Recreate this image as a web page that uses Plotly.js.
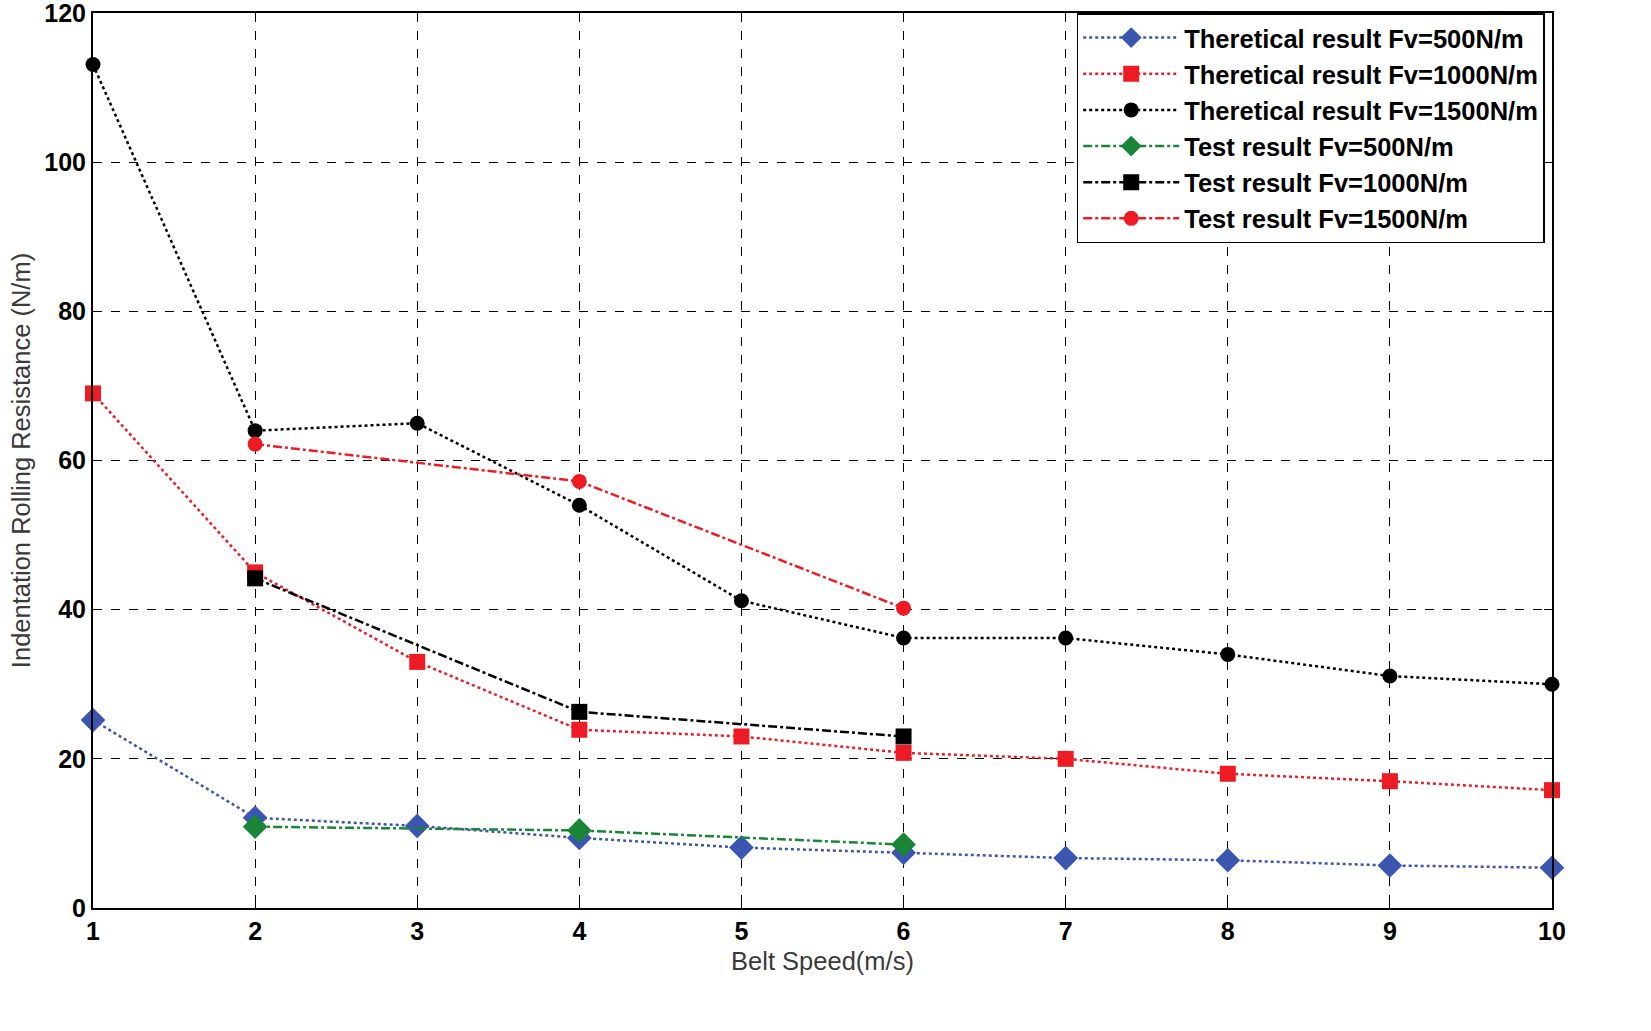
<!DOCTYPE html>
<html>
<head>
<meta charset="utf-8">
<script src="https://cdn.plot.ly/plotly-3.0.1.min.js"></script>
<style>
  body { margin: 0; background: #fff; }
  #chart { width: 1651px; height: 1031px; }
</style>
</head>
<body>
<div id="chart"></div>
<script>
var speed = [1, 2, 3, 4, 5, 6, 7, 8, 9, 10];
var testSpeed = [2, 4, 6];

var theory500 = [25.2, 12.1, 11.0, 9.4, 8.1, 7.4, 6.7, 6.4, 5.7, 5.4];
var theory1000 = [69, 45, 33, 23.9, 23, 20.8, 20, 18, 17, 15.8];
var theory1500 = [113.1, 64, 65, 54, 41.2, 36.2, 36.2, 34, 31.1, 30];

var test500 = [10.9, 10.4, 8.5];
var test1000 = [44.2, 26.3, 23];
var test1500 = [62.2, 57.2, 40.2];

var yTicks = [0, 20, 40, 60, 80, 100, 120];

var names = [
  'Theretical result Fv=500N/m',
  'Theretical result Fv=1000N/m',
  'Theretical result Fv=1500N/m',
  'Test result Fv=500N/m',
  'Test result Fv=1000N/m',
  'Test result Fv=1500N/m'
];

function series(x, y, name, color, dash, symbol, size) {
  return {
    x: x, y: y, name: name, legendgroup: name, type: 'scatter', mode: 'lines+markers',
    cliponaxis: false,
    line: { color: color, width: 2.5, dash: dash },
    marker: { color: color, symbol: symbol, size: size }
  };
}

var data = [
  series(speed, theory500, names[0], '#3b56b0', 'dot', 'diamond', 19),
  series(speed, theory1000, names[1], '#ed1c24', 'dot', 'square', 16),
  series(speed, theory1500, names[2], '#000000', 'dot', 'circle', 15),
  series(testSpeed, test500, names[3], '#1b8537', 'dashdot', 'diamond', 19),
  series(testSpeed, test1000, names[4], '#000000', 'dashdot', 'square', 16),
  series(testSpeed, test1500, names[5], '#ed1c24', 'dashdot', 'circle', 15)
];

var tickFont = { family: 'Liberation Sans, Arial, sans-serif', size: 25, color: '#000', weight: 'bold' };
var titleFont = { family: 'Liberation Sans, Arial, sans-serif', size: 25.5, color: '#3a3a3a' };

var layout = {
  width: 1651,
  height: 1031,
  margin: { l: 93, r: 99, t: 13, b: 123 },
  paper_bgcolor: '#fff',
  plot_bgcolor: '#fff',
  showlegend: true,
  legend: {
    x: 0.995, y: 1, xanchor: 'right', yanchor: 'top',
    bgcolor: '#fff', bordercolor: '#000', borderwidth: 1.5,
    itemwidth: 96, tracegroupgap: 0,
    font: { family: 'Liberation Sans, Arial, sans-serif', size: 25.5, color: '#000', weight: 'bold' }
  },
  xaxis: {
    range: [1, 10],
    tickvals: speed,
    ticks: 'inside', ticklen: 8, tickcolor: '#000',
    tickfont: tickFont, ticklabeloverflow: 'allow',
    showline: true, linecolor: '#000', linewidth: 2, mirror: 'ticks',
    showgrid: true, gridcolor: '#000', gridwidth: 1, griddash: 'dash',
    zeroline: false,
    title: { text: 'Belt Speed(m/s)', font: titleFont, standoff: 8 }
  },
  yaxis: {
    range: [0, 120],
    tickvals: yTicks,
    ticks: 'inside', ticklen: 8, tickcolor: '#000',
    tickfont: tickFont, ticklabeloverflow: 'allow',
    showline: true, linecolor: '#000', linewidth: 2, mirror: 'ticks',
    showgrid: true, gridcolor: '#000', gridwidth: 1, griddash: 'dash',
    zeroline: false,
    title: { text: 'Indentation Rolling Resistance (N/m)', font: titleFont, standoff: 6 }
  }
};

Plotly.newPlot('chart', data, layout, { displayModeBar: false });
</script>
</body>
</html>
